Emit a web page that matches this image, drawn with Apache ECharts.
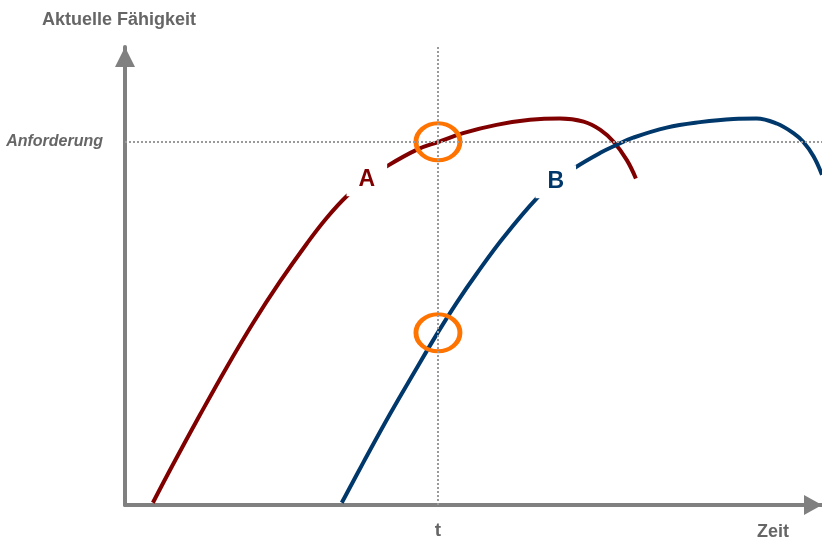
<!DOCTYPE html>
<html>
<head>
<meta charset="utf-8">
<script src="https://cdn.jsdelivr.net/npm/echarts@6/dist/echarts.min.js"></script>
<style>
  html, body { margin: 0; padding: 0; background: #fff; }
  #chart { width: 822px; height: 541px; }
</style>
</head>
<body>
<div id="chart"></div>
<script>
// Capability curves over time (arbitrary units, 0–10 on both axes)
const timeA    = [0.40, 0.69, 1.08, 1.46, 1.84, 2.22, 2.61, 2.89, 3.18, 3.47, 3.76, 4.19, 4.50, 4.85, 5.33, 5.81, 6.24, 6.58, 6.82, 7.01, 7.20, 7.33];
const abilityA = [0.05, 0.89, 1.98, 3.01, 3.98, 4.87, 5.71, 6.26, 6.74, 7.10, 7.40, 7.76, 7.93, 8.12, 8.30, 8.41, 8.44, 8.37, 8.19, 7.93, 7.53, 7.13];

const timeB    = [3.11, 3.42, 3.80, 4.14, 4.47, 4.76, 5.05, 5.43, 5.91, 6.18, 6.46, 6.82, 7.05, 7.29, 7.77, 8.25, 8.73, 9.06, 9.35, 9.59, 9.73, 9.88, 10.0];
const abilityB = [0.05, 0.93, 1.98, 2.87, 3.72, 4.42, 5.06, 5.84, 6.70, 7.06, 7.37, 7.69, 7.86, 8.02, 8.24, 8.36, 8.43, 8.44, 8.33, 8.12, 7.93, 7.61, 7.21];

// Point on each curve that carries its letter
const labelIndexA = 9;
const labelIndexB = 9;

// Moment t and the required capability level
const T_VALUE = 4.49;
const REQUIREMENT = 7.93;
// Capability of B at moment t
const ABILITY_B_AT_T = 3.76;

const X_MAX = 10;
const Y_MAX = 10;

const FONT = "'Liberation Sans', Arial, sans-serif";
const GREY_TEXT = '#666666';
const AXIS_GREY = '#808080';
const RED = '#800000';
const BLUE = '#00386b';
const ORANGE = '#ff7300';

const zip = (xs, ys) => xs.map((x, i) => [x, ys[i]]);

function letterMark(letter, color, x, y) {
  return {
    symbol: 'circle',
    symbolSize: 1,
    silent: true,
    itemStyle: { color: 'rgba(0,0,0,0)' },
    label: {
      show: true,
      position: 'inside',
      formatter: letter,
      color: color,
      fontFamily: FONT,
      fontSize: 23,
      fontWeight: 'bold',
      backgroundColor: '#ffffff',
      padding: [5, 12]
    },
    data: [{ coord: [x, y] }]
  };
}

const chart = echarts.init(document.getElementById('chart'), null, { renderer: 'canvas' });

chart.setOption({
  animation: false,
  backgroundColor: '#ffffff',
  grid: { left: 125, right: 0, top: 47, bottom: 36, containLabel: false, outerBoundsMode: 'none' },
  xAxis: {
    type: 'value',
    min: 0,
    max: X_MAX,
    name: 'Zeit',
    nameLocation: 'end',
    nameGap: -33,
    nameTextStyle: {
      color: GREY_TEXT, fontFamily: FONT, fontSize: 18, fontWeight: 'bold',
      align: 'right', verticalAlign: 'top', padding: [18, 0, 0, 0]
    },
    axisLine: {
      show: true,
      symbol: ['none', 'triangle'],
      symbolSize: [20, 18],
      symbolOffset: [0, -9],
      lineStyle: { color: AXIS_GREY, width: 4 }
    },
    axisTick: { show: false },
    splitLine: { show: false },
    axisLabel: {
      show: true,
      customValues: [T_VALUE],
      formatter: () => 't',
      color: GREY_TEXT, fontFamily: FONT, fontSize: 19, fontWeight: 'bold',
      margin: 16
    }
  },
  yAxis: {
    type: 'value',
    min: 0,
    max: Y_MAX,
    name: 'Aktuelle Fähigkeit',
    nameLocation: 'end',
    nameGap: 18,
    nameTextStyle: {
      color: GREY_TEXT, fontFamily: FONT, fontSize: 18, fontWeight: 'bold',
      padding: [0, 12, 0, 0]
    },
    axisLine: {
      show: true,
      symbol: ['none', 'triangle'],
      symbolSize: [20, 20],
      symbolOffset: [0, -10],
      lineStyle: { color: AXIS_GREY, width: 4 }
    },
    axisTick: { show: false },
    splitLine: { show: false },
    axisLabel: { show: false }
  },
  series: [
    {
      // guide lines: requirement level and moment t
      type: 'line',
      name: 'guides',
      data: [],
      z: 1,
      silent: true,
      markLine: {
        silent: true,
        symbol: 'none',
        lineStyle: { color: '#9a9a9a', type: 'dotted', width: 2 },
        data: [
          {
            yAxis: REQUIREMENT,
            label: {
              show: true,
              position: 'start',
              distance: 22,
              formatter: 'Anforderung',
              color: GREY_TEXT, fontFamily: FONT, fontSize: 16,
              fontWeight: 'bold', fontStyle: 'italic'
            }
          },
          { xAxis: T_VALUE, label: { show: false } }
        ]
      }
    },
    {
      type: 'line',
      name: 'A',
      data: zip(timeA, abilityA),
      showSymbol: false,
      smooth: 0.4,
      z: 2,
      lineStyle: { color: RED, width: 4, cap: 'butt' },
      itemStyle: { color: RED },
      markPoint: letterMark('A', RED, timeA[labelIndexA], abilityA[labelIndexA])
    },
    {
      type: 'line',
      name: 'B',
      data: zip(timeB, abilityB),
      showSymbol: false,
      smooth: 0.4,
      z: 2,
      lineStyle: { color: BLUE, width: 4, cap: 'butt' },
      itemStyle: { color: BLUE },
      markPoint: letterMark('B', BLUE, timeB[labelIndexB], abilityB[labelIndexB])
    },
    {
      // highlight where each curve stands at moment t
      type: 'scatter',
      name: 'at t',
      data: [[T_VALUE, REQUIREMENT], [T_VALUE, ABILITY_B_AT_T]],
      symbol: 'circle',
      symbolSize: [44, 37],
      z: 3,
      silent: true,
      itemStyle: { color: 'rgba(0,0,0,0)', borderColor: ORANGE, borderWidth: 4.5, opacity: 1 }
    }
  ]
});
</script>
</body>
</html>
